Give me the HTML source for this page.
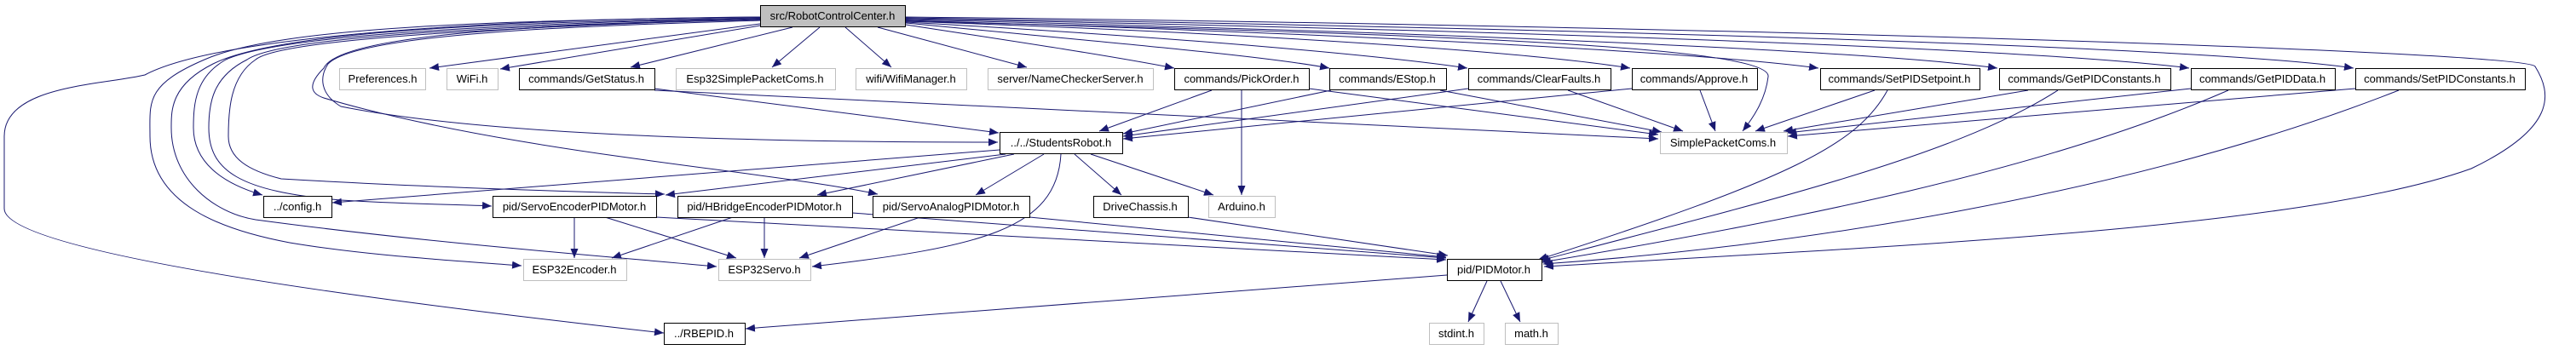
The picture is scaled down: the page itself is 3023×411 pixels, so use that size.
<!DOCTYPE html>
<html><head><meta charset="utf-8"><style>
html,body{margin:0;padding:0;background:#fff;width:3023px;height:411px;overflow:hidden}
text{font-family:"Liberation Sans",sans-serif;font-size:13px;fill:#000}
</style></head><body>
<svg width="3023" height="411" viewBox="0 0 3023 411" xmlns="http://www.w3.org/2000/svg">
<defs><marker id="a" markerUnits="userSpaceOnUse" markerWidth="12" markerHeight="10" refX="11" refY="4.5" orient="auto"><path d="M0,0 L11,4.5 L0,9 z" fill="#191970"/></marker></defs>
<g fill="none" stroke="#191970" stroke-width="1" marker-end="url(#a)">
<path d="M892,28 L504,80"/>
<path d="M892,30 L587,81"/>
<path d="M930,32 L740,79"/>
<path d="M962,32 L906,79"/>
<path d="M992,32 L1046,79"/>
<path d="M1030,32 L1205,79"/>
<path d="M1063,29 C1200,50 1300,65 1378,80"/>
<path d="M1063,27 C1300,50 1480,65 1560,80"/>
<path d="M1063,26 C1400,45 1620,65 1722,80"/>
<path d="M1063,25 C1500,40 1800,62 1913,80"/>
<path d="M1063,24 C1600,40 2000,62 2134,80"/>
<path d="M1063,23 C1700,38 2200,60 2344,80"/>
<path d="M1063,22 C1800,36 2400,58 2569,80"/>
<path d="M1063,21 C1900,34 2600,56 2762,80"/>
<path d="M1063,25 C1700,40 2080,55 2075,90 C2072,115 2060,135 2045,154"/>
<path d="M1063,20 C2000,30 2960,60 2975,78 C2995,110 3000,150 2900,198 C2700,270 2200,290 1812,313"/>
<path d="M892,20 C600,22 260,40 170,88 C120,100 5,100 5,160 L5,245 C5,300 500,360 779,391"/>
<path d="M892,20 C600,24 330,30 240,70 C170,100 176,120 176,160 C176,240 260,270 340,285 C430,300 520,305 612,312"/>
<path d="M892,21 C600,26 330,35 250,75 C200,100 201,130 201,150 C201,210 250,250 300,258 C500,285 700,300 841,313"/>
<path d="M892,21 C600,28 330,40 265,70 C230,90 227,120 227,150 C227,190 260,215 308,229"/>
<path d="M892,22 C600,30 330,42 290,70 C250,90 245,120 245,150 C245,200 280,225 400,235 C480,240 540,240 577,242"/>
<path d="M892,22 C600,32 330,45 300,70 C270,90 268,130 268,160 C268,185 290,200 330,210 C500,220 700,226 780,228"/>
<path d="M892,23 C700,28 400,35 380,80 C360,100 365,110 380,115 C600,180 900,200 1030,228"/>
<path d="M892,24 C700,30 420,38 385,75 C375,90 375,110 400,125 C600,165 1000,167 1171,167"/>
<path d="M768,104 L1172,156"/>
<path d="M768,106 L1946,163"/>
<path d="M1422,106 L1290,154"/>
<path d="M1457,106 L1457,229"/>
<path d="M1536,104 L1946,158"/>
<path d="M1562,106 L1318,157"/>
<path d="M1690,106 L1950,155"/>
<path d="M1723,104 L1318,160"/>
<path d="M1840,106 L1975,154"/>
<path d="M1915,104 L1318,163"/>
<path d="M1995,106 L2013,154"/>
<path d="M2200,106 L2060,154"/>
<path d="M2215,106 C2180,170 2100,210 1805,305"/>
<path d="M2380,106 L2093,154"/>
<path d="M2415,106 C2300,180 2100,230 1807,306"/>
<path d="M2571,104 L2097,156"/>
<path d="M2615,106 C2400,200 2100,260 1809,308"/>
<path d="M2764,104 L2098,160"/>
<path d="M2815,106 C2500,230 2100,290 1811,310"/>
<path d="M1173,176 L390,238"/>
<path d="M1180,181 L781,229"/>
<path d="M1190,181 L959,229"/>
<path d="M1225,181 L1145,229"/>
<path d="M1261,181 L1316,229"/>
<path d="M1280,181 L1424,229"/>
<path d="M1245,181 C1240,270 1150,290 953,313"/>
<path d="M674,255 L674,303"/>
<path d="M710,255 L864,303"/>
<path d="M770,255 L1697,305"/>
<path d="M860,255 L718,303"/>
<path d="M897,255 L897,303"/>
<path d="M1000,250 L1697,303"/>
<path d="M1080,255 L938,303"/>
<path d="M1208,255 L1697,302"/>
<path d="M1394,255 L1699,300"/>
<path d="M1698,323 L875,386"/>
<path d="M1745,330 L1723,378"/>
<path d="M1761,330 L1784,378"/>
</g>
<g stroke-width="1">
<rect x="892.5" y="6.5" width="170" height="25" fill="#bfbfbf" stroke="#000"/>
<g fill="#fff" stroke="#bfbfbf">
<rect x="398.5" y="80.5" width="101" height="25"/><rect x="524.5" y="80.5" width="60" height="25"/>
<rect x="793.5" y="80.5" width="187" height="25"/><rect x="1004.5" y="80.5" width="130" height="25"/>
<rect x="1159.5" y="80.5" width="194" height="25"/><rect x="1948.5" y="155.5" width="149" height="25"/>
<rect x="1418.5" y="230.5" width="78" height="25"/><rect x="614.5" y="304.5" width="121" height="25"/>
<rect x="843.5" y="304.5" width="108" height="25"/><rect x="1677.5" y="379.5" width="64" height="25"/>
<rect x="1766.5" y="379.5" width="62" height="25"/>
</g>
<g fill="#fff" stroke="#000">
<rect x="609.5" y="80.5" width="159" height="25"/><rect x="1378.5" y="80.5" width="158" height="25"/>
<rect x="1560.5" y="80.5" width="137" height="25"/><rect x="1723.5" y="80.5" width="167" height="25"/>
<rect x="1915.5" y="80.5" width="147" height="25"/><rect x="2136.5" y="80.5" width="187" height="25"/>
<rect x="2346.5" y="80.5" width="201" height="25"/><rect x="2571.5" y="80.5" width="169" height="25"/>
<rect x="2764.5" y="80.5" width="199" height="25"/><rect x="1173.5" y="155.5" width="144" height="25"/>
<rect x="309.5" y="230.5" width="80" height="25"/><rect x="578.5" y="230.5" width="192" height="25"/>
<rect x="795.5" y="230.5" width="205" height="25"/><rect x="1024.5" y="230.5" width="184" height="25"/>
<rect x="1283.5" y="230.5" width="111" height="25"/><rect x="1698.5" y="304.5" width="111" height="25"/>
<rect x="779.5" y="379.5" width="95" height="25"/>
</g>
</g>
<g text-anchor="middle">
<text x="977" y="23">src/RobotControlCenter.h</text>
<text x="449" y="97">Preferences.h</text><text x="554" y="97">WiFi.h</text>
<text x="688" y="97">commands/GetStatus.h</text><text x="886" y="97">Esp32SimplePacketComs.h</text>
<text x="1069" y="97">wifi/WifiManager.h</text><text x="1256" y="97">server/NameCheckerServer.h</text>
<text x="1457" y="97">commands/PickOrder.h</text><text x="1628" y="97">commands/EStop.h</text>
<text x="1806" y="97">commands/ClearFaults.h</text><text x="1988" y="97">commands/Approve.h</text>
<text x="2229" y="97">commands/SetPIDSetpoint.h</text><text x="2446" y="97">commands/GetPIDConstants.h</text>
<text x="2655" y="97">commands/GetPIDData.h</text><text x="2863" y="97">commands/SetPIDConstants.h</text>
<text x="1245" y="172">../../StudentsRobot.h</text><text x="2022" y="172">SimplePacketComs.h</text>
<text x="349" y="247">../config.h</text><text x="674" y="247">pid/ServoEncoderPIDMotor.h</text>
<text x="897" y="247">pid/HBridgeEncoderPIDMotor.h</text><text x="1116" y="247">pid/ServoAnalogPIDMotor.h</text>
<text x="1338" y="247">DriveChassis.h</text><text x="1457" y="247">Arduino.h</text>
<text x="674" y="321">ESP32Encoder.h</text><text x="897" y="321">ESP32Servo.h</text>
<text x="1753" y="321">pid/PIDMotor.h</text>
<text x="826" y="396">../RBEPID.h</text><text x="1709" y="396">stdint.h</text><text x="1797" y="396">math.h</text>
</g>
</svg>
</body></html>
